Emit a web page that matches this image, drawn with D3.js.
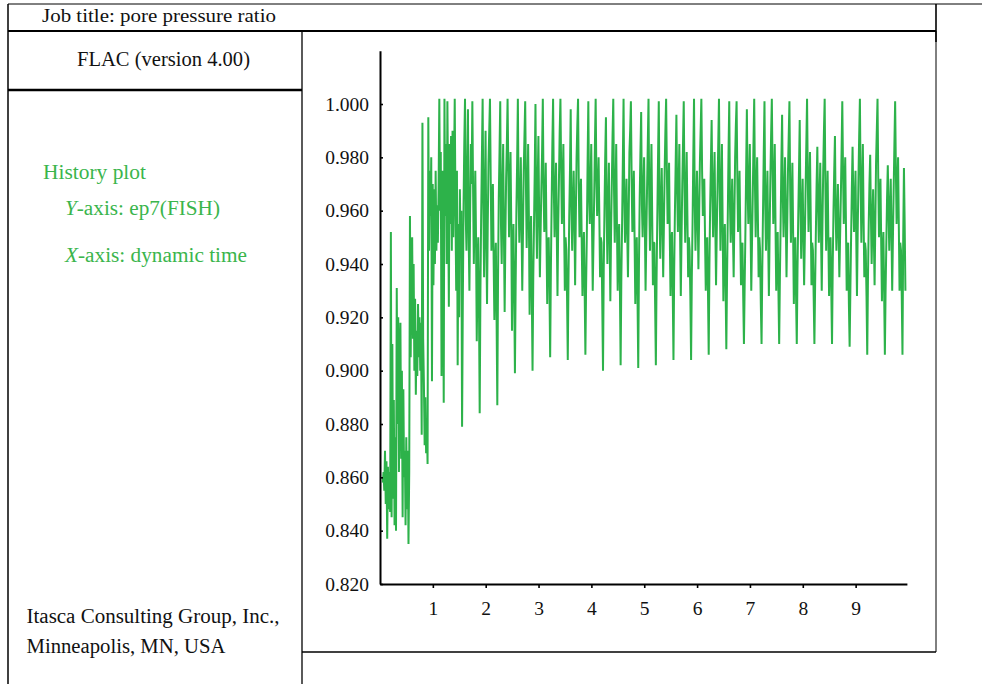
<!DOCTYPE html>
<html>
<head>
<meta charset="utf-8">
<script src="https://cdn.jsdelivr.net/npm/d3@7"></script>
<style>
html,body{margin:0;padding:0;background:#fff;}
svg{display:block;}
</style>
</head>
<body>
<svg id="chart" width="982" height="684"></svg>
<script>
// ---- data ----
const sampleStart = 0.053;      // dynamic time of first history sample
const sampleStep = 1 / 72;      // history sampling interval

// early build-up of pore pressure ratio (t < 1.55)
const rampValues = [
  0.858, 0.862, 0.855, 0.870, 0.850, 0.866, 0.837, 0.864, 0.848, 0.862,
  0.847, 0.952, 0.845, 0.910, 0.852, 0.889, 0.842, 0.875, 0.840, 0.931,
  0.880, 0.920, 0.862, 0.905, 0.918, 0.867, 0.900, 0.845, 0.893, 0.860,
  0.870, 0.842, 0.875, 0.848, 0.870, 0.835, 0.862, 0.958, 0.905, 0.945,
  0.950, 0.912, 0.940, 0.900, 0.927, 0.891, 0.915, 0.898, 0.925, 0.905,
  0.920, 0.900, 0.918, 0.876, 0.993, 0.912, 0.895, 0.872, 0.890, 0.869,
  0.880, 0.865, 0.995, 0.945, 0.975, 0.958, 0.980, 0.896, 0.970, 0.932,
  0.968, 0.940, 0.975, 0.945, 0.962, 0.948, 0.968, 1.002, 0.960, 0.982,
  0.898, 0.975, 0.955, 0.888, 1.002, 0.958, 0.985, 0.940, 1.001, 0.965,
  0.924, 0.985, 0.955, 0.988, 0.945, 0.990, 0.950, 0.975, 1.002, 0.960,
  0.930, 0.975, 0.902, 0.955, 0.920, 0.968, 0.945, 0.960
];

// oscillating (cyclic) stage, one row per load cycle
const steadyValues = [
  0.879, 0.925, 0.962, 0.985, 1.002, 0.958, 0.945, 0.975, 0.998, 0.950, 0.930, 0.960, 0.985, 0.970, 1.001, 0.968, 0.940, 0.958, 0.975, 0.950, 0.911, 0.935, 0.950, 0.925,
  0.884, 0.930, 0.958, 0.980, 1.002, 0.962, 0.935, 0.965, 0.990, 0.948, 0.925, 0.955, 0.978, 0.990, 1.002, 0.972, 0.945, 0.962, 0.970, 0.942, 0.919, 0.940, 0.948, 0.920,
  0.887, 0.935, 0.965, 0.982, 1.001, 0.955, 0.940, 0.968, 0.985, 0.952, 0.922, 0.950, 0.972, 0.985, 1.002, 0.975, 0.950, 0.968, 0.982, 0.955, 0.915, 0.942, 0.955, 0.930,
  0.899, 0.932, 0.960, 0.978, 1.002, 0.965, 0.948, 0.962, 0.980, 0.955, 0.930, 0.952, 0.975, 0.988, 1.001, 0.970, 0.946, 0.965, 0.985, 0.958, 0.921, 0.945, 0.958, 0.928,
  0.900, 0.935, 0.955, 0.975, 1.000, 0.960, 0.942, 0.970, 0.988, 0.958, 0.935, 0.952, 0.968, 0.982, 1.002, 0.968, 0.952, 0.962, 0.978, 0.950, 0.925, 0.948, 0.950, 0.932,
  0.905, 0.938, 0.962, 0.985, 1.002, 0.968, 0.950, 0.965, 0.978, 0.952, 0.928, 0.955, 0.972, 0.990, 1.002, 0.975, 0.955, 0.970, 0.985, 0.955, 0.930, 0.950, 0.945, 0.928,
  0.904, 0.935, 0.958, 0.975, 0.998, 0.960, 0.945, 0.962, 0.975, 0.958, 0.932, 0.958, 0.980, 0.992, 1.002, 0.970, 0.950, 0.965, 0.972, 0.948, 0.928, 0.945, 0.952, 0.930,
  0.906, 0.932, 0.952, 0.978, 1.001, 0.965, 0.955, 0.970, 0.985, 0.955, 0.930, 0.948, 0.965, 0.985, 1.002, 0.972, 0.958, 0.968, 0.980, 0.958, 0.935, 0.950, 0.948, 0.925,
  0.900, 0.938, 0.960, 0.980, 0.995, 0.958, 0.940, 0.962, 0.978, 0.950, 0.926, 0.952, 0.970, 0.988, 1.002, 0.968, 0.948, 0.965, 0.985, 0.955, 0.930, 0.948, 0.955, 0.932,
  0.902, 0.935, 0.955, 0.978, 1.002, 0.965, 0.948, 0.960, 0.972, 0.952, 0.935, 0.958, 0.982, 0.990, 1.001, 0.972, 0.952, 0.962, 0.975, 0.950, 0.925, 0.945, 0.950, 0.928,
  0.901, 0.940, 0.965, 0.982, 0.997, 0.962, 0.950, 0.968, 0.980, 0.955, 0.930, 0.950, 0.968, 0.985, 1.002, 0.965, 0.945, 0.968, 0.985, 0.958, 0.932, 0.948, 0.948, 0.925,
  0.902, 0.935, 0.958, 0.980, 1.001, 0.960, 0.942, 0.962, 0.976, 0.955, 0.935, 0.955, 0.975, 0.990, 1.002, 0.975, 0.955, 0.965, 0.978, 0.950, 0.928, 0.948, 0.952, 0.930,
  0.904, 0.938, 0.960, 0.978, 0.996, 0.968, 0.952, 0.968, 0.985, 0.952, 0.928, 0.950, 0.970, 0.985, 1.001, 0.968, 0.948, 0.965, 0.982, 0.958, 0.935, 0.950, 0.945, 0.928,
  0.904, 0.935, 0.955, 0.980, 1.002, 0.962, 0.945, 0.960, 0.975, 0.958, 0.938, 0.958, 0.978, 0.990, 1.002, 0.975, 0.958, 0.965, 0.972, 0.950, 0.930, 0.948, 0.950, 0.930,
  0.906, 0.940, 0.962, 0.978, 0.994, 0.965, 0.950, 0.968, 0.982, 0.955, 0.932, 0.952, 0.968, 0.985, 1.002, 0.968, 0.945, 0.965, 0.985, 0.955, 0.926, 0.948, 0.955, 0.932,
  0.908, 0.935, 0.958, 0.982, 1.001, 0.962, 0.948, 0.960, 0.972, 0.952, 0.935, 0.958, 0.980, 0.992, 1.001, 0.972, 0.952, 0.962, 0.975, 0.952, 0.932, 0.945, 0.948, 0.928,
  0.910, 0.932, 0.952, 0.975, 0.998, 0.968, 0.955, 0.970, 0.985, 0.955, 0.930, 0.948, 0.965, 0.985, 1.002, 0.970, 0.950, 0.968, 0.980, 0.958, 0.935, 0.950, 0.945, 0.925,
  0.910, 0.938, 0.960, 0.982, 1.001, 0.962, 0.945, 0.962, 0.975, 0.950, 0.928, 0.952, 0.972, 0.988, 1.002, 0.975, 0.955, 0.968, 0.985, 0.955, 0.930, 0.948, 0.952, 0.930,
  0.910, 0.935, 0.955, 0.978, 0.996, 0.965, 0.950, 0.965, 0.980, 0.958, 0.935, 0.955, 0.975, 0.988, 1.001, 0.968, 0.948, 0.962, 0.978, 0.952, 0.925, 0.945, 0.950, 0.928,
  0.910, 0.938, 0.958, 0.975, 0.994, 0.960, 0.942, 0.960, 0.972, 0.950, 0.932, 0.950, 0.968, 0.985, 1.002, 0.972, 0.952, 0.968, 0.982, 0.958, 0.932, 0.948, 0.945, 0.928,
  0.910, 0.932, 0.952, 0.970, 0.984, 0.962, 0.948, 0.965, 0.978, 0.952, 0.930, 0.955, 0.975, 0.990, 1.002, 0.968, 0.945, 0.960, 0.975, 0.950, 0.928, 0.948, 0.950, 0.930,
  0.910, 0.940, 0.960, 0.975, 0.988, 0.958, 0.945, 0.958, 0.970, 0.952, 0.935, 0.950, 0.965, 0.982, 1.001, 0.975, 0.955, 0.968, 0.980, 0.955, 0.930, 0.945, 0.948, 0.925,
  0.909, 0.930, 0.950, 0.968, 0.984, 0.965, 0.952, 0.962, 0.975, 0.950, 0.928, 0.952, 0.972, 0.988, 1.002, 0.968, 0.948, 0.968, 0.985, 0.958, 0.935, 0.948, 0.945, 0.928,
  0.906, 0.935, 0.955, 0.970, 0.981, 0.958, 0.940, 0.955, 0.968, 0.950, 0.932, 0.955, 0.978, 0.990, 1.002, 0.972, 0.950, 0.962, 0.972, 0.948, 0.926, 0.945, 0.952, 0.930,
  0.906, 0.930, 0.948, 0.965, 0.977, 0.960, 0.945, 0.960, 0.972, 0.952, 0.930, 0.950, 0.968, 0.985, 1.001, 0.975, 0.955, 0.968, 0.980, 0.955, 0.930, 0.948, 0.945, 0.928,
  0.906, 0.950, 0.976, 0.955, 0.930
];

const xTickValues = [1, 2, 3, 4, 5, 6, 7, 8, 9];
const xTickLabels = ["1", "2", "3", "4", "5", "6", "7", "8", "9"];
const yTickValues = [0.82, 0.84, 0.86, 0.88, 0.90, 0.92, 0.94, 0.96, 0.98, 1.00];
const yTickLabels = ["0.820", "0.840", "0.860", "0.880", "0.900", "0.920", "0.940", "0.960", "0.980", "1.000"];

const historyValues = rampValues.concat(steadyValues);

// ---- drawing ----
const svg = d3.select("#chart");
const serif = "'Liberation Serif', 'Times New Roman', serif";
const green = "#2db24a";
const textGreen = "#3ab54c";

// frame lines
const frame = svg.append("g").attr("fill", "none").attr("stroke", "#000");
frame.append("line").attr("x1", 8).attr("y1", 4).attr("x2", 982).attr("y2", 4).attr("stroke-width", 1);
frame.append("line").attr("x1", 8).attr("y1", 4).attr("x2", 8).attr("y2", 684).attr("stroke-width", 1.5);
frame.append("line").attr("x1", 936).attr("y1", 4).attr("x2", 936).attr("y2", 42).attr("stroke-width", 1.6);
frame.append("line").attr("x1", 8).attr("y1", 31).attr("x2", 936).attr("y2", 31).attr("stroke-width", 1.8);
frame.append("line").attr("x1", 8).attr("y1", 90).attr("x2", 302).attr("y2", 90).attr("stroke-width", 2.5);
frame.append("line").attr("x1", 302).attr("y1", 31).attr("x2", 302).attr("y2", 684).attr("stroke-width", 1.3);
frame.append("line").attr("x1", 936).attr("y1", 31).attr("x2", 936).attr("y2", 652).attr("stroke-width", 1);
frame.append("line").attr("x1", 302).attr("y1", 652).attr("x2", 936).attr("y2", 652).attr("stroke-width", 1.3);

// texts
function addText(txt, x, y, size, fill, len) {
  const t = svg.append("text").attr("x", x).attr("y", y)
    .attr("font-family", serif).attr("font-size", size).attr("fill", fill).text(txt);
  if (len) t.attr("textLength", len).attr("lengthAdjust", "spacingAndGlyphs");
  return t;
}
addText("Job title: pore pressure ratio", 42, 22, 19.5, "#111", 234);
addText("FLAC (version 4.00)", 77, 66, 20, "#111", 173);
addText("History plot", 43, 179, 20, textGreen, 103);

const yLine = svg.append("text").attr("x", 65).attr("y", 215)
  .attr("font-family", serif).attr("font-size", 20).attr("fill", textGreen)
  .attr("textLength", 155).attr("lengthAdjust", "spacingAndGlyphs");
yLine.append("tspan").attr("font-style", "italic").text("Y");
yLine.append("tspan").text("-axis: ep7(FISH)");

const xLine = svg.append("text").attr("x", 65).attr("y", 262)
  .attr("font-family", serif).attr("font-size", 20).attr("fill", textGreen)
  .attr("textLength", 182).attr("lengthAdjust", "spacingAndGlyphs");
xLine.append("tspan").attr("font-style", "italic").text("X");
xLine.append("tspan").text("-axis: dynamic time");

addText("Itasca Consulting Group, Inc.,", 26.5, 623, 20, "#111", 253);
addText("Minneapolis, MN, USA", 26.5, 653, 20, "#111", 199);

// scales
const x = d3.scaleLinear().domain([0, 9.97]).range([380, 906.9]);
const y = d3.scaleLinear().domain([0.82, 1.02]).range([584, 50.67]);

// history line
const line = d3.line()
  .x((d, i) => x(sampleStart + i * sampleStep))
  .y(d => y(d));
svg.append("path").datum(historyValues)
  .attr("d", line)
  .attr("fill", "none")
  .attr("stroke", green)
  .attr("stroke-width", 2)
  .attr("stroke-linejoin", "bevel");

// axes
const yAxis = d3.axisLeft(y).tickValues(yTickValues)
  .tickFormat((d, i) => yTickLabels[i]).tickSize(-3).tickSizeOuter(0).tickPadding(11);
const gy = svg.append("g").attr("transform", "translate(380,0)").call(yAxis);

const xAxis = d3.axisBottom(x).tickValues(xTickValues)
  .tickFormat((d, i) => xTickLabels[i]).tickSize(4).tickSizeOuter(0).tickPadding(13);
const gx = svg.append("g").attr("transform", "translate(0,584)").call(xAxis);

[gx, gy].forEach(g => {
  g.attr("font-family", serif).attr("font-size", 19.5);
  g.select(".domain").attr("stroke", "#000").attr("stroke-width", 2);
  g.selectAll(".tick line").attr("stroke", "#000").attr("stroke-width", 1.6);
  g.selectAll(".tick text").attr("fill", "#111");
});
</script>
</body>
</html>
